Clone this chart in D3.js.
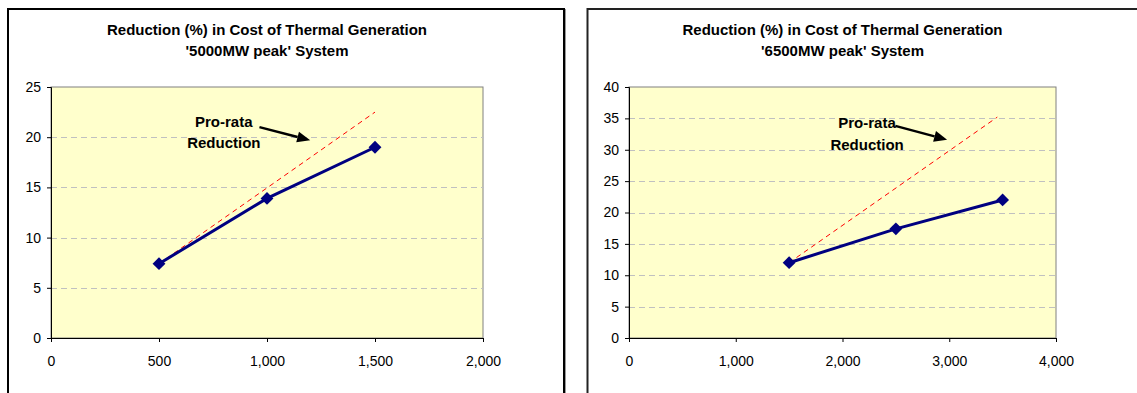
<!DOCTYPE html>
<html>
<head>
<meta charset="utf-8">
<script src="https://cdn.jsdelivr.net/npm/d3@7"></script>
<style>
  body { margin: 0; background: #fff; }
  svg { display: block; font-family: "Liberation Sans", Arial, sans-serif; }
</style>
</head>
<body>
<svg id="chart" width="1137" height="393"></svg>
<script>
// chart 1: '5000MW peak'
const titles5000 = ["Reduction (%) in Cost of Thermal Generation", "'5000MW peak' System"];
const mw5000 = [500, 1000, 1500];
const cut5000 = [7.4, 13.9, 19.0];
const proRataX5000 = [500, 1500];
const proRataY5000 = [7.4, 22.5];
const xTicks5000 = [0, 500, 1000, 1500, 2000];
const yTicks5000 = [0, 5, 10, 15, 20, 25];

// chart 2: '6500MW peak'
const titles6500 = ["Reduction (%) in Cost of Thermal Generation", "'6500MW peak' System"];
const mw6500 = [1500, 2500, 3500];
const cut6500 = [12.0, 17.4, 22.0];
const proRataX6500 = [1500, 3450];
const proRataY6500 = [12.0, 35.2];
const xTicks6500 = [0, 1000, 2000, 3000, 4000];
const yTicks6500 = [0, 5, 10, 15, 20, 25, 30, 35, 40];

const noteLines = ["Pro-rata", "Reduction"];

const svg = d3.select('#chart')

// chart frames
svg.append('rect')
    .attr('x', 8).attr('y', 9).attr('width', 556).attr('height', 420)
    .attr('fill', '#fff').attr('stroke', '#000').attr('stroke-width', 2)
svg.append('line')
    .attr('x1', 565.5).attr('x2', 565.5).attr('y1', 9).attr('y2', 393)
    .attr('stroke', '#999').attr('stroke-width', 1)
svg.append('rect')
    .attr('x', 587.5).attr('y', 9).attr('width', 600).attr('height', 420)
    .attr('fill', '#fff').attr('stroke', '#222').attr('stroke-width', 2)

const drawChart = (cfg) => {
    const { left, right, top, bottom, titles, xs, ys, prx, pry, xTicks, yTicks, note } = cfg;

    const x = d3.scaleLinear().domain([xTicks[0], xTicks[xTicks.length - 1]]).range([left, right])
    const y = d3.scaleLinear().domain([yTicks[0], yTicks[yTicks.length - 1]]).range([bottom, top])

    const g = svg.append('g')

    // title
    g.selectAll('.title')
        .data(titles)
        .enter()
        .append('text')
        .attr('x', (left + right) / 2)
        .attr('y', (d, i) => 35 + i * 21)
        .attr('text-anchor', 'middle')
        .style('font-size', '15px')
        .style('font-weight', 'bold')
        .attr('fill', '#000')
        .text(d => d)

    // plot area
    g.append('rect')
        .attr('x', left).attr('y', top)
        .attr('width', right - left).attr('height', bottom - top)
        .attr('fill', '#FFFFCC')
        .attr('stroke', '#808080')
        .attr('stroke-width', 1)

    // gridlines
    g.selectAll('.grid')
        .data(yTicks.slice(1, -1))
        .enter()
        .append('line')
        .attr('x1', left).attr('x2', right)
        .attr('y1', d => Math.round(y(d)) + 0.5).attr('y2', d => Math.round(y(d)) + 0.5)
        .attr('stroke', '#C0C0C0')
        .attr('stroke-dasharray', '6,4')

    // axes
    const yAxis = d3.axisLeft(y).tickValues(yTicks).tickSize(4).tickPadding(6).tickFormat(d3.format(','))
    const xAxis = d3.axisBottom(x).tickValues(xTicks).tickSize(4).tickPadding(14).tickFormat(d3.format(','))

    const ya = g.append('g').attr('transform', `translate(${left},0)`).call(yAxis)
    const xa = g.append('g').attr('transform', `translate(0,${bottom})`).call(xAxis)
    ;[ya, xa].forEach(a => {
        a.select('.domain').attr('stroke', '#000')
        a.selectAll('.tick line').attr('stroke', '#000')
        a.selectAll('text').style('font-size', '14px').attr('fill', '#000').style('font-family', '"Liberation Sans", Arial, sans-serif')
    })
    xa.selectAll('text').attr('dy', '0.71em')

    // pro-rata line
    const proData = prx.map((d, i) => ({ x: d, y: pry[i] }))
    g.append('path')
        .datum(proData)
        .attr('d', d3.line().x(d => x(d.x)).y(d => y(d.y)))
        .attr('fill', 'none')
        .attr('stroke', '#FF0000')
        .attr('stroke-width', 1)
        .attr('stroke-dasharray', '5,4')

    // actual reduction
    const data = xs.map((d, i) => ({ x: d, y: ys[i] }))
    g.append('path')
        .datum(data)
        .attr('d', d3.line().x(d => x(d.x)).y(d => y(d.y)))
        .attr('fill', 'none')
        .attr('stroke', '#000080')
        .attr('stroke-width', 3)

    g.selectAll('.marker')
        .data(data)
        .enter()
        .append('path')
        .attr('d', d3.symbol().type(d3.symbolDiamond2).size(105))
        .attr('transform', d => `translate(${x(d.x)},${y(d.y)})`)
        .attr('fill', '#000080')

    // annotation
    g.selectAll('.note')
        .data(noteLines)
        .enter()
        .append('text')
        .attr('x', x(note.tx))
        .attr('y', (d, i) => y(note.ty[i]))
        .attr('text-anchor', 'middle')
        .style('font-size', '15px')
        .style('font-weight', 'bold')
        .attr('fill', '#000')
        .text(d => d)

    const ax0 = x(note.ax[0]), ay0 = y(note.ay[0])
    const ax1 = x(note.ax[1]), ay1 = y(note.ay[1])
    const ang = Math.atan2(ay1 - ay0, ax1 - ax0)
    const headLen = 13, headW = 5.5
    const bx = ax1 - headLen * Math.cos(ang), by = ay1 - headLen * Math.sin(ang)
    g.append('line')
        .attr('x1', ax0).attr('y1', ay0)
        .attr('x2', bx).attr('y2', by)
        .attr('stroke', '#000').attr('stroke-width', 2.5)
    g.append('path')
        .attr('d', `M${ax1},${ay1}L${bx - headW * Math.sin(ang)},${by + headW * Math.cos(ang)}L${bx + headW * Math.sin(ang)},${by - headW * Math.cos(ang)}Z`)
        .attr('fill', '#000')
}

drawChart({
    left: 51, right: 483, top: 87, bottom: 338,
    titles: titles5000, xs: mw5000, ys: cut5000, prx: proRataX5000, pry: proRataY5000,
    xTicks: xTicks5000, yTicks: yTicks5000,
    note: { tx: 800, ty: [21.0, 18.9], ax: [965, 1200], ay: [21.0, 19.7] }
})

drawChart({
    left: 629, right: 1056, top: 87, bottom: 338,
    titles: titles6500, xs: mw6500, ys: cut6500, prx: proRataX6500, pry: proRataY6500,
    xTicks: xTicks6500, yTicks: yTicks6500,
    note: { tx: 2230, ty: [33.5, 30.0], ax: [2495, 2980], ay: [33.8, 31.6] }
})
</script>
</body>
</html>
